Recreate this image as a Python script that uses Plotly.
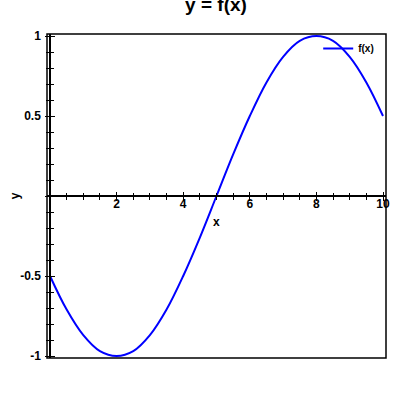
import plotly.graph_objects as go

# Values
x_vals = [0, 0.5, 1, 1.5, 2, 2.5, 3, 3.5, 4, 4.5, 5, 5.5, 6, 6.5, 7, 7.5, 8, 8.5, 9, 9.5, 10]
y_vals = [-0.5, -0.71, -0.87, -0.97, -1.0, -0.97, -0.87, -0.71, -0.5, -0.26, 0.0,
          0.26, 0.5, 0.71, 0.87, 0.97, 1.0, 0.97, 0.87, 0.71, 0.5]
series_name = "f(x)"

x_tickvals = [0, 2, 4, 6, 8, 10]
x_ticktext = ["", "2", "4", "6", "8", "10"]
y_tickvals = [-1, -0.5, 0, 0.5, 1]
y_ticktext = ["-1", "-0.5", "", "0.5", "1"]

FONT = "Liberation Sans, Arial, sans-serif"
x_range = [-0.09, 10.09]
y_range = [-1.0125, 1.0125]
y_axis_pos = (0 - x_range[0]) / (x_range[1] - x_range[0])
x_axis_pos = (0 - y_range[0]) / (y_range[1] - y_range[0])

fig = go.Figure()
fig.add_trace(go.Scatter(x=x_vals, y=y_vals, mode="lines", line_shape="spline",
                         line=dict(color="#0000ff", width=2), name=series_name))

# ticks crossing the axis: one axis ticks each way
tick_common = dict(showgrid=False, zeroline=False, ticklen=4, tickwidth=1, tickcolor="black",
                   automargin=False,
                   tickfont=dict(family=FONT, size=12, color="black", weight="bold"))

fig.update_layout(
    width=400, height=400,
    paper_bgcolor="white", plot_bgcolor="white",
    margin=dict(l=47, r=14, t=34, b=42, autoexpand=False),
    title=dict(text="y = f(x)", x=0.54, xanchor="center", y=0.988, yanchor="middle",
               automargin=False,
               font=dict(family=FONT, size=19, color="black", weight="bold")),
    xaxis=dict(range=x_range, anchor="free", position=x_axis_pos, showline=True,
               linecolor="black", linewidth=1.5, ticks="outside",
               tickmode="array", tickvals=x_tickvals, ticktext=x_ticktext,
               ticklabelstandoff=-7,
               minor=dict(ticks="outside", ticklen=3, tickmode="linear", tick0=0, dtick=0.5,
                          tickcolor="black", showgrid=False),
               **tick_common),
    xaxis2=dict(range=x_range, overlaying="x", matches="x", side="top", anchor="free",
                position=x_axis_pos, showline=False, ticks="outside", showticklabels=False,
                tickmode="array", tickvals=x_tickvals,
                minor=dict(ticks="outside", ticklen=3, tickmode="linear", tick0=0, dtick=0.5,
                           tickcolor="black", showgrid=False),
                **tick_common),
    yaxis=dict(range=y_range, anchor="free", position=y_axis_pos, showline=True,
               linecolor="black", linewidth=1.5, ticks="outside",
               tickmode="array", tickvals=y_tickvals, ticktext=y_ticktext,
               ticklabelstandoff=2,
               minor=dict(ticks="outside", ticklen=3, tickmode="linear", tick0=0, dtick=0.1,
                          tickcolor="black", showgrid=False),
               **tick_common),
    yaxis2=dict(range=y_range, overlaying="y", matches="y", side="right", anchor="free",
                position=y_axis_pos, showline=False, ticks="outside", showticklabels=False,
                tickmode="array", tickvals=y_tickvals,
                minor=dict(ticks="outside", ticklen=3, tickmode="linear", tick0=0, dtick=0.1,
                           tickcolor="black", showgrid=False),
                **tick_common),
    legend=dict(x=0.80, y=1.0, xanchor="left", yanchor="top", bgcolor="rgba(0,0,0,0)",
                font=dict(family=FONT, size=10, color="black", weight="bold")),
    showlegend=True,
    shapes=[dict(type="rect", xref="paper", yref="paper", x0=0, x1=1, y0=0, y1=1,
                 line=dict(color="black", width=1.5))],
    annotations=[
        dict(text="x", xref="paper", yref="paper", x=0.5, y=x_axis_pos, yshift=-26,
             showarrow=False, font=dict(family=FONT, size=12, color="black", weight="bold")),
        dict(text="y", xref="paper", yref="paper", x=-0.12, y=0.5, textangle=-90,
             showarrow=False, font=dict(family=FONT, size=12, color="black", weight="bold")),
    ],
)

# dummy traces to activate the overlay axes
fig.add_trace(go.Scatter(x=[None], y=[None], xaxis="x2", yaxis="y2", showlegend=False,
                         hoverinfo="skip"))

# page body has a default 8px margin, drop it so the figure sits at the window corner
fig.write_html("out.html", config={"displayModeBar": False},
               post_script="document.body.style.margin = '0';")
